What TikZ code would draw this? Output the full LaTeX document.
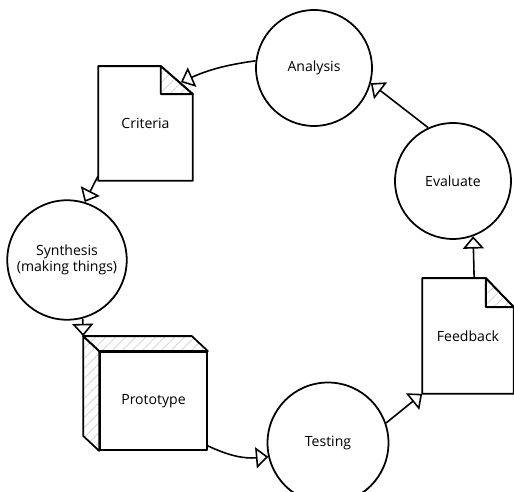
\documentclass[tikz,border=0pt]{standalone}
\usepackage{fontspec}
\setmainfont{Open Sans}
\usetikzlibrary{arrows.meta,patterns.meta,calc}

\tikzset{
  flow/.style={-{Triangle[open,length=7pt,width=12pt]}, line width=0.9pt},
  hatch/.style={pattern={Lines[angle=45,distance=4pt,line width=0.4pt]}, pattern color=gray!45}
}

\begin{document}
\begin{tikzpicture}[x=0.02cm, y=-0.02cm, line width=1pt, line join=round, font=\footnotesize]
  \useasboundingbox (0,0) rectangle (514,492);

  % Nodes
  \draw (314,68)      node(An) [circle,draw,minimum size=2.32cm] {Analysis};
  \draw (453,181)     node(Ev) [circle,draw,minimum size=2.32cm] {Evaluate};
  \draw (67,260)      node(Sy) [circle,draw,minimum size=2.38cm,align=center] {Synthesis\\(making things)};
  \draw (328,443)     node(Te) [circle,draw,minimum size=2.42cm] {Testing};
  \draw (145.5,123.5) node(Cr) [minimum width=1.86cm,minimum height=2.26cm] {Criteria};
  \draw (468,336)     node(Fb) [minimum width=1.8cm,minimum height=2.28cm] {Feedback};
  \draw (153.5,401)   node(Pr) [draw,minimum width=2.14cm,minimum height=1.96cm] {Prototype};

  % Documents with folded corner
  \draw (Cr.south west) -- (Cr.north west) -- ($(Cr.north east)+(-32,0)$) -- ($(Cr.north east)+(0,28)$) -- (Cr.south east) -- cycle;
  \draw[hatch] ($(Cr.north east)+(-32,0)$) -- ($(Cr.north east)+(-32,28)$) -- ($(Cr.north east)+(0,28)$) -- cycle;
  \draw (Fb.south west) -- (Fb.north west) -- ($(Fb.north east)+(-28,0)$) -- ($(Fb.north east)+(0,29)$) -- (Fb.south east) -- cycle;
  \draw[hatch] ($(Fb.north east)+(-28,0)$) -- ($(Fb.north east)+(-28,29)$) -- ($(Fb.north east)+(0,29)$) -- cycle;

  % Cube faces
  \coordinate (PrBack) at ($(Pr.north west)+(-16,-15)$);
  \draw[hatch] (Pr.north west) -- (PrBack) -- ($(Pr.south west)+(-16,-15)$) -- (Pr.south west) -- cycle;
  \draw[hatch] (Pr.north west) -- (PrBack) -- ($(Pr.north east)+(-16,-15)$) -- (Pr.north east) -- cycle;

  % Edges
  \coordinate (CrTip) at ($(Cr.north east)+(-12,16)$);
  \draw[flow] (An.173) to[bend right=8] (CrTip);
  \draw[flow] ($(Cr.south west)+(0,-5)$) -- (Sy.73);
  \draw[flow] (Sy.285) -- (PrBack);
  \draw[flow] ($(Pr.south east)+(0,-5)$) to[bend right=15] (Te.193);
  \draw[flow] (Te.19) -- (Fb.south west);
  \draw[flow] ($(Fb.north west)+(52,0)$) -- (Ev.290);
  \draw[flow] (Ev.115) -- (An.345);
\end{tikzpicture}
\end{document}
